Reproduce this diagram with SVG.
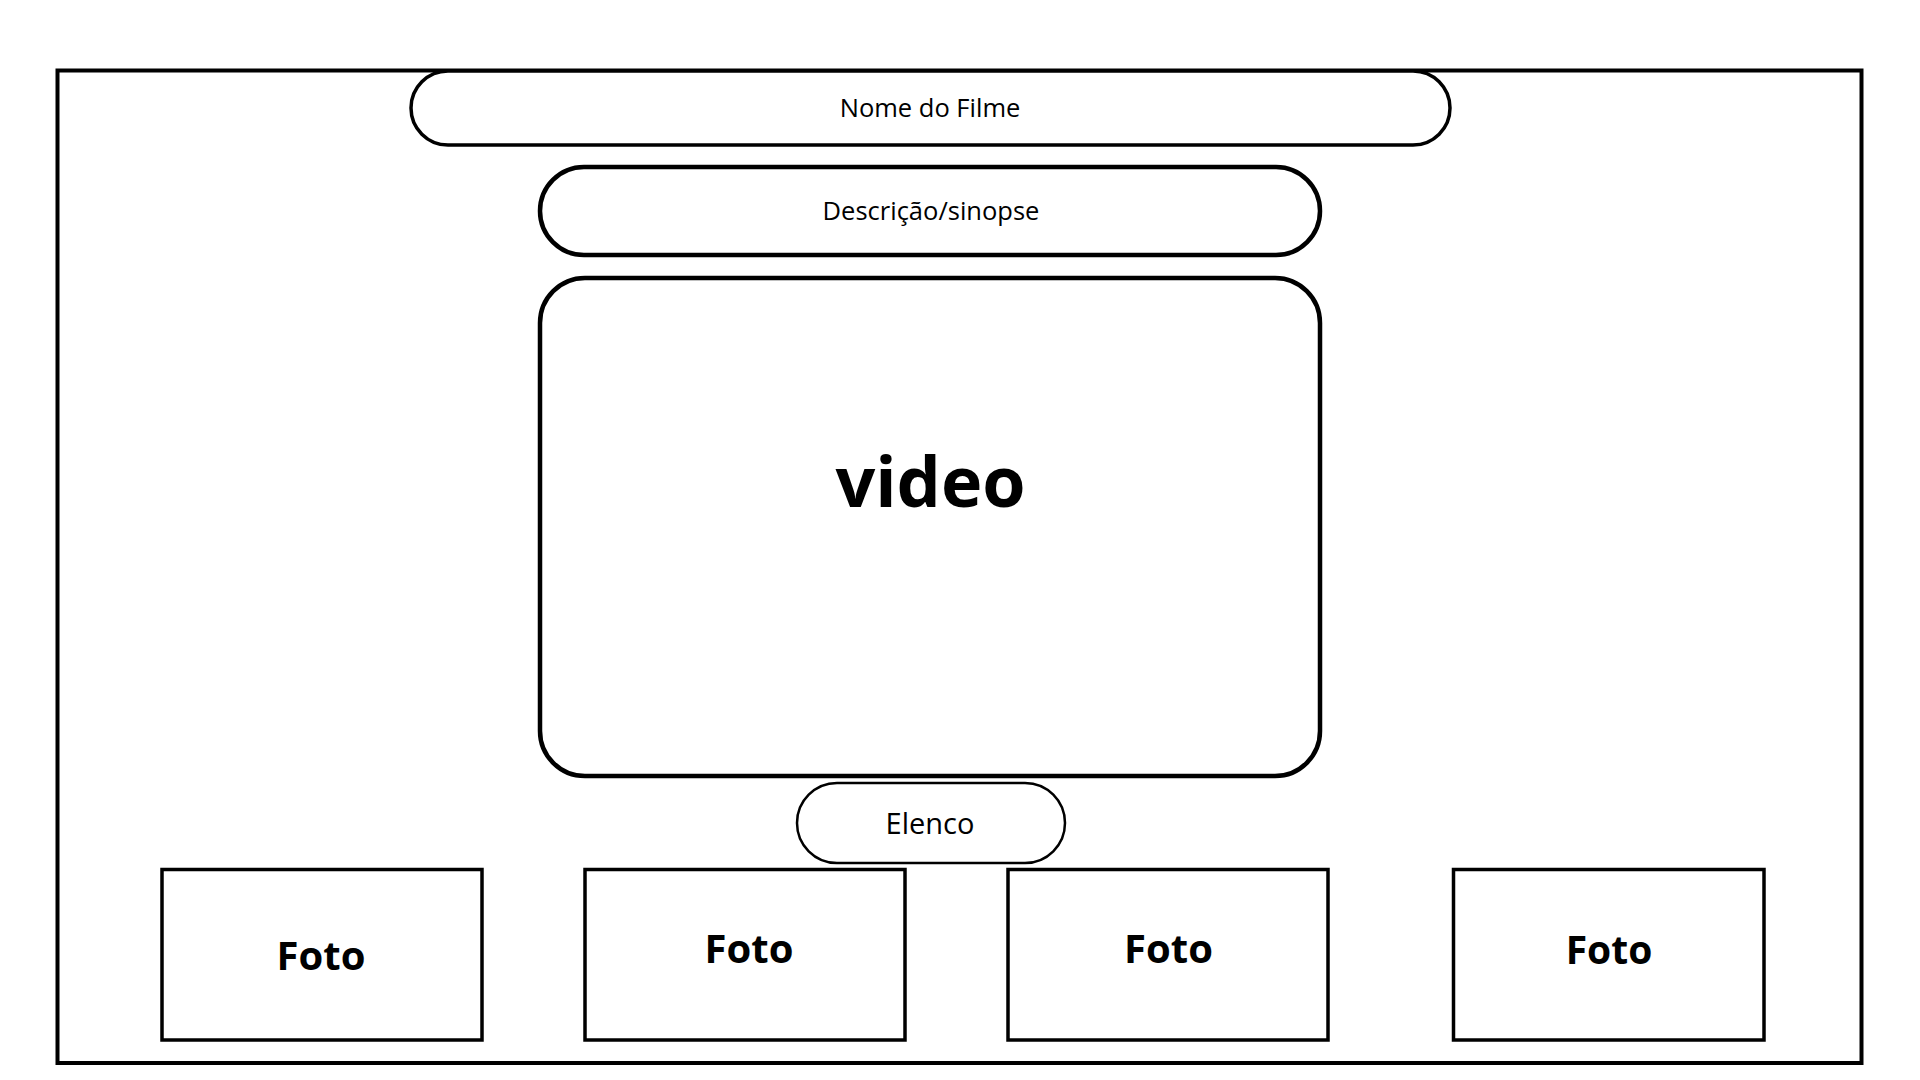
<svg xmlns="http://www.w3.org/2000/svg" width="1920" height="1080" viewBox="0 0 1920 1080">
<style>
.s{fill:#fff;stroke:#000}
.t{font-family:"Open Sans","Noto Sans","Liberation Sans",sans-serif;fill:#000;text-anchor:middle}
.b{font-weight:bold}
</style>
<rect width="1920" height="1080" fill="#fff"/>
<g id="frame"><rect class="s" x="57.5" y="70.5" width="1804" height="992.5" stroke-width="4"/></g>
<g id="nome"><rect class="s" x="411" y="71" width="1039" height="74" rx="37" stroke-width="3.5"/><text class="t" x="930" y="116.5" font-size="25.5">Nome do Filme</text></g>
<g id="descricao"><rect class="s" x="540" y="167" width="780" height="88" rx="44" stroke-width="4.5"/><text class="t" x="931" y="219.5" font-size="25.5">Descrição/sinopse</text></g>
<g id="video"><rect class="s" x="540" y="278" width="780" height="498" rx="45" stroke-width="4.5"/><text class="t b" x="930.5" y="507" font-size="70">video</text></g>
<g id="elenco"><rect class="s" x="797" y="783" width="268" height="80" rx="40" stroke-width="2.5"/><text class="t" x="930" y="833.5" font-size="29">Elenco</text></g>
<g id="foto1"><rect class="s" x="162" y="869.5" width="320" height="170.5" stroke-width="3.5"/><text class="t b" x="321" y="970" font-size="40">Foto</text></g>
<g id="foto2"><rect class="s" x="585" y="869.5" width="320" height="170.5" stroke-width="3.5"/><text class="t b" x="749" y="962.5" font-size="40">Foto</text></g>
<g id="foto3"><rect class="s" x="1008" y="869.5" width="320" height="170.5" stroke-width="3.5"/><text class="t b" x="1168.5" y="962.5" font-size="40">Foto</text></g>
<g id="foto4"><rect class="s" x="1453.5" y="869.5" width="310.5" height="170.5" stroke-width="3.5"/><text class="t b" x="1609" y="963.5" font-size="39">Foto</text></g>
<g id="connectors"></g>
</svg>
